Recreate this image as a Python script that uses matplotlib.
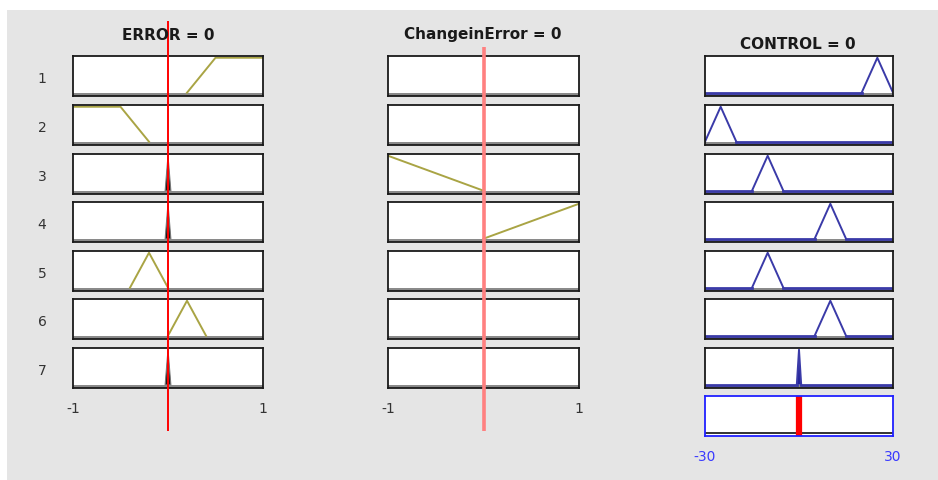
"""Fuzzy rule viewer: ERROR / ChangeinError inputs and CONTROL output, 7 rules."""

import matplotlib
matplotlib.use("Agg")
import matplotlib.pyplot as plt
from matplotlib.patches import Rectangle

W, H = 938, 481

# rule numbers and the inputs evaluated
rules = [1, 2, 3, 4, 5, 6, 7]
error_in = 0
change_in = 0
control_out = 0

error_range = [-1, 1]
change_range = [-1, 1]
control_range = [-30, 30]

# membership function vertices [a, b, c, d] (trapezoid; b == c for triangles)
error_mf = [
    [0.2, 0.5, 1, 1],
    [-1, -1, -0.5, -0.2],
    [-0.03, 0, 0, 0.03],
    [-0.03, 0, 0, 0.03],
    [-0.4, -0.2, -0.2, 0],
    [0, 0.2, 0.2, 0.4],
    [-0.03, 0, 0, 0.03],
]
error_filled = [False, False, True, True, False, False, True]

change_mf = [None, None, [-1, -1, -1, 0], [0, 1, 1, 1], None, None, None]

control_mf = [
    [20, 25, 25, 30],
    [-30, -25, -25, -20],
    [-15, -10, -10, -5],
    [5, 10, 10, 15],
    [-15, -10, -10, -5],
    [5, 10, 10, 15],
    [-0.7, 0, 0, 0.7],
]
control_filled = [False, False, False, False, False, False, True]

OLIVE = "#a9a444"
NAVY = "#3a3aa8"
BAND = "#8a8a8a"
YLIM = (-0.08, 1.05)


def rect(x0, top, w, h):
    return [x0 / W, 1 - (top + h) / H, w / W, h / H]


def mf_points(p):
    a, b, c, d = p
    xs, ys = [], []
    if a != b:
        xs.append(a); ys.append(0)
    xs += [b, c]; ys += [1, 1]
    if c != d:
        xs.append(d); ys.append(0)
    return xs, ys


def style(ax, xr, edge="#1a1a1a"):
    ax.set_xlim(xr)
    ax.set_ylim(YLIM)
    ax.set_xticks([]); ax.set_yticks([])
    for s in ax.spines.values():
        s.set_color(edge); s.set_linewidth(1.3)


fig = plt.figure(figsize=(W / 100, H / 100), dpi=100, facecolor="white")
fig.patches.append(Rectangle((7 / W, 0), 1, 1 - 11 / H, transform=fig.transFigure,
                             facecolor="#e5e5e5", edgecolor="none", zorder=-10))

cols = [(73, 190), (388, 191), (705, 188)]
row_top = [57, 106, 155, 203, 252, 300, 349, 397]
row_h = 39.5

for i, r in enumerate(rules):
    top = row_top[i]
    fig.text(42 / W, 1 - (top + row_h / 2 + 2) / H, str(r), ha="center", va="center",
             fontsize=10, color="#333333")

    # ERROR column
    ax = fig.add_axes(rect(cols[0][0], top, cols[0][1], row_h))
    style(ax, error_range)
    ax.axhspan(YLIM[0], 0, color=BAND, lw=0)
    xs, ys = mf_points(error_mf[i])
    if error_filled[i]:
        ax.fill(xs, ys, color="#1a1a1a", lw=0)
        ax.plot(xs, ys, color="#777777", lw=0.8)
    else:
        ax.plot(xs, ys, color=OLIVE, lw=1.4)

    # ChangeinError column
    ax = fig.add_axes(rect(cols[1][0], top, cols[1][1], row_h))
    style(ax, change_range)
    ax.axhspan(YLIM[0], 0, color=BAND, lw=0)
    if change_mf[i] is not None:
        xs, ys = mf_points(change_mf[i])
        ax.plot(xs, ys, color=OLIVE, lw=1.4)

    # CONTROL column
    ax = fig.add_axes(rect(cols[2][0], top, cols[2][1], row_h))
    style(ax, control_range)
    ax.axhspan(YLIM[0], 0, color=BAND, lw=0)
    xs, ys = mf_points(control_mf[i])
    lo, hi = control_range
    if xs[0] > lo:
        ax.plot([lo, xs[0]], [0, 0], color=NAVY, lw=2)
    if xs[-1] < hi:
        ax.plot([xs[-1], hi], [0, 0], color=NAVY, lw=2)
    if control_filled[i]:
        ax.fill(xs, ys, color="#24249a", lw=0)
    ax.plot(xs, ys, color=NAVY, lw=1.4)

    if i == len(rules) - 1:
        for k, xr in enumerate([error_range, change_range]):
            a = fig.axes[-3 + k]
            a.set_xticks(xr)
            a.set_xticklabels([f"{v:g}" for v in xr], fontsize=10, color="#333333")
            a.tick_params(length=0, pad=10)

# aggregated output
agg = fig.add_axes(rect(cols[2][0], row_top[7], cols[2][1], row_h))
style(agg, control_range, edge="#2020ff")
agg.axhline(0, color="#333333", lw=1.4)
agg.axvline(control_out, color="#ff0000", lw=4.5)
agg.set_xticks(control_range)
agg.set_xticklabels([f"{v:g}" for v in control_range], fontsize=10, color="#3a3aff")
agg.tick_params(length=0, pad=10)

# input value markers across the rows
ov = fig.add_axes(rect(cols[0][0], 22, cols[0][1], 410))
ov.set_xlim(error_range); ov.axis("off")
ov.axvline(error_in, color="#ff0000", lw=1.4)
ov = fig.add_axes(rect(cols[1][0], 48, cols[1][1], 384))
ov.set_xlim(change_range); ov.axis("off")
ov.axvline(change_in, color="#ff8080", lw=2.6)

fig.text(168 / W, 1 - 35 / H, f"ERROR = {error_in}", ha="center", va="center",
         fontsize=11, fontweight="bold", color="#1a1a1a")
fig.text(483 / W, 1 - 35 / H, f"ChangeinError = {change_in}", ha="center", va="center",
         fontsize=11, fontweight="bold", color="#1a1a1a")
fig.text(798 / W, 1 - 45 / H, f"CONTROL = {control_out}", ha="center", va="center",
         fontsize=11, fontweight="bold", color="#1a1a1a")

fig.savefig("out.png", dpi=100, facecolor=fig.get_facecolor())
